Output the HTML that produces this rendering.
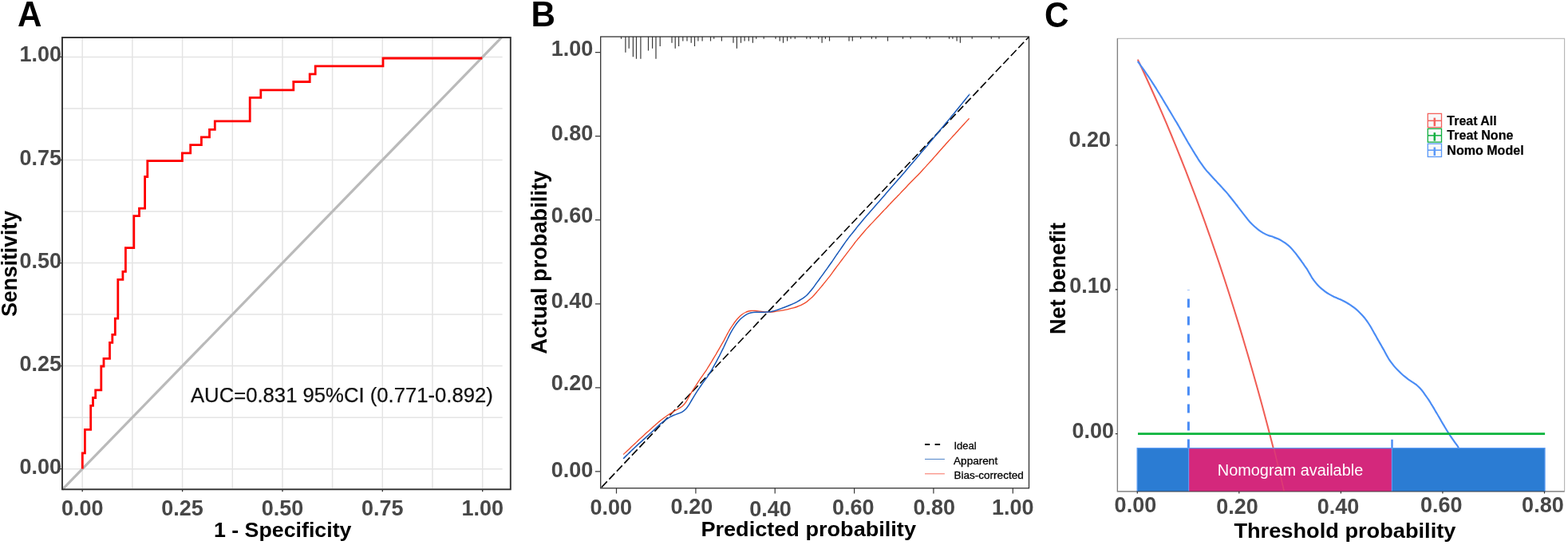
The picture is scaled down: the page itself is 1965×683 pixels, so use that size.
<!DOCTYPE html>
<html lang="en"><head><meta charset="utf-8"><title>ROC, calibration and decision curve</title>
<style>
html,body{margin:0;padding:0;background:#fff;}
body{width:1965px;height:683px;overflow:hidden;}
svg{display:block;}
text{font-family:"Liberation Sans", sans-serif;}
.pl{font-weight:700;font-size:43.6px;fill:#000;}
.tk{font-weight:700;font-size:27px;fill:#474747;}
.ax{font-weight:700;font-size:25.9px;fill:#000;}
.lgB{font-size:13.7px;fill:#000;stroke:#000;stroke-width:0.3px;}
.lgC{font-weight:700;font-size:16.2px;fill:#000;stroke:#000;stroke-width:0.2px;}
</style></head><body>
<svg width="1965" height="683" viewBox="0 0 1965 683" role="img" aria-label="ROC curve, calibration curve and decision curve">
<rect x="0" y="0" width="1965" height="683" fill="#ffffff"/>
<g id="panelA">
<text x="22.0" y="33.0" class="pl" textLength="30.4" lengthAdjust="spacingAndGlyphs">A</text>
<path d="M103.2 47V612M165.9 47V612M228.6 47V612M291.3 47V612M354.0 47V612M416.6 47V612M479.3 47V612M542.0 47V612M604.7 47V612M78 587.7H629.6M78 523.2H629.6M78 458.6H629.6M78 394.1H629.6M78 329.6H629.6M78 265.0H629.6M78 200.5H629.6M78 135.9H629.6M78 71.4H629.6" stroke="#e4e4e4" stroke-width="1.5" fill="none"/>
<path d="M78 613.6L628.6 46.8" stroke="#bababa" stroke-width="3.2" fill="none"/>
<polyline points="103.3,587.5 103.3,567.9 106.4,567.9 106.4,538.4 113.7,538.4 113.7,508.4 116.5,508.4 116.5,498.5 119.7,498.5 119.7,488.9 126.8,488.9 126.8,459.0 130.0,459.0 130.0,449.4 137.5,449.4 137.5,429.3 140.8,429.3 140.8,419.3 144.3,419.3 144.3,399.1 147.8,399.1 147.8,350.4 153.9,350.4 153.9,340.4 157.4,340.4 157.4,310.6 167.8,310.6 167.8,270.7 174.5,270.7 174.5,261.1 181.6,261.1 181.6,221.5 184.8,221.5 184.8,201.6 228.4,201.6 228.4,191.8 238.7,191.8 238.7,181.7 252.4,181.7 252.4,171.9 262.5,171.9 262.5,162.3 269.3,162.3 269.3,151.8 313.2,151.8 313.2,122.4 326.8,122.4 326.8,112.8 367.8,112.8 367.8,102.5 388.2,102.5 388.2,92.9 395.2,92.9 395.2,82.9 480.0,82.9 480.0,73.0 604.3,73.0" stroke="#ff0000" stroke-width="2.8" fill="none" stroke-linejoin="miter"/>
<rect x="78" y="47" width="561.8" height="566.3" fill="none" stroke="#303030" stroke-width="1.9"/>
<path d="M103.2 613V616.2M75 587.7H78M228.6 613V616.2M75 458.6H78M354.0 613V616.2M75 329.6H78M479.3 613V616.2M75 200.5H78M604.7 613V616.2M75 71.4H78" stroke="#333" stroke-width="1.3" fill="none"/>
<text x="103.2" y="645.6" class="tk" text-anchor="middle">0.00</text>
<text x="77.0" y="593.7" class="tk" text-anchor="end">0.00</text>
<text x="228.6" y="645.6" class="tk" text-anchor="middle">0.25</text>
<text x="77.0" y="464.6" class="tk" text-anchor="end">0.25</text>
<text x="354.0" y="645.6" class="tk" text-anchor="middle">0.50</text>
<text x="77.0" y="335.6" class="tk" text-anchor="end">0.50</text>
<text x="479.3" y="645.6" class="tk" text-anchor="middle">0.75</text>
<text x="77.0" y="206.5" class="tk" text-anchor="end">0.75</text>
<text x="604.7" y="645.6" class="tk" text-anchor="middle">1.00</text>
<text x="77.0" y="77.4" class="tk" text-anchor="end">1.00</text>
<text x="354.2" y="672.5" class="ax" text-anchor="middle" textLength="172.6" lengthAdjust="spacingAndGlyphs" style="font-size:26.5px">1 - Specificity</text>
<text transform="translate(21.2 330.4) rotate(-90)" class="ax" text-anchor="middle" textLength="132.6" lengthAdjust="spacingAndGlyphs" style="font-size:27.4px">Sensitivity</text>
<text x="239.0" y="504.2" class="auc" textLength="378.8" lengthAdjust="spacingAndGlyphs" font-size="26.4" fill="#111" stroke="#111" stroke-width="0.25">AUC=0.831 95%CI (0.771-0.892)</text>
</g>
<g id="panelB">
<text x="665.5" y="33.0" class="pl" textLength="30.4" lengthAdjust="spacingAndGlyphs">B</text>
<path d="M778.5 46V48.7M783.9 46V65.8M788.2 46V60.7M793.4 46V71.3M797.5 46V73.7M802.9 46V73.7M812.5 46V63.4M817.6 46V60.7M822.0 46V73.7M827.2 46V58.1M842.0 46V53.7M846.2 46V60.7M850.6 46V58.1M855.8 46V51.4M861.0 46V51.4M866.2 46V53.7M870.5 46V58.1M874.9 46V51.4M880.1 46V51.4M890.5 46V51.4M894.7 46V48.7M904.4 46V51.4M919.0 46V53.7M923.4 46V60.7M928.5 46V53.7M933.1 46V51.4M938.3 46V51.4M943.4 46V53.7M947.7 46V48.7M957.2 46V48.7M972.0 46V48.7M977.2 46V51.4M981.5 46V53.7M986.6 46V51.4M991.0 46V48.7M996.3 46V48.7M1010.9 46V48.7M1015.4 46V48.7M1025.8 46V48.7M1030.1 46V53.7M1034.4 46V48.7M1039.5 46V51.4M1064.0 46V51.4M1068.3 46V51.4M1078.6 46V48.7M1092.4 46V48.7M1097.7 46V48.7M1112.5 46V51.4M1131.5 46V48.7M1141.1 46V48.7M1161.0 46V48.7M1165.2 46V48.7M1189.5 46V48.7M1193.9 46V48.7M1199.1 46V51.4M1203.4 46V53.7M1218.2 46V48.7M1242.3 46V48.7M1252.0 46V48.7" stroke="#3a3a3a" stroke-width="1.2" fill="none"/>
<path d="M753 611.6L1289.4 46.2" stroke="#000" stroke-width="1.6" stroke-dasharray="10 3.8" stroke-dashoffset="-1.3" fill="none"/>
<path d="M781.1 569.6C781.8 568.9 784.0 566.9 785.5 565.5C786.9 564.1 788.4 562.7 789.8 561.4C791.3 560.0 792.7 558.6 794.2 557.3C795.7 555.9 797.1 554.5 798.6 553.2C800.0 551.8 801.5 550.4 803.0 549.1C804.4 547.7 805.9 546.4 807.4 545.0C808.8 543.6 810.3 542.3 811.8 540.9C813.3 539.6 814.8 538.2 816.3 536.9C817.7 535.6 819.3 534.3 820.8 533.0C822.3 531.6 823.8 530.3 825.3 529.0C826.8 527.8 828.4 526.5 830.0 525.3C831.6 524.1 833.2 522.9 834.8 521.7C836.5 520.6 838.1 519.5 839.8 518.4C841.5 517.3 843.2 516.4 844.9 515.3C846.7 514.3 848.4 513.4 850.1 512.3C851.8 511.2 853.6 510.2 855.1 509.0C856.6 507.7 858.0 506.3 859.1 504.7C860.3 503.1 861.2 501.3 862.1 499.5C863.1 497.8 864.0 496.0 865.0 494.3C866.1 492.6 867.2 490.9 868.2 489.2C869.3 487.5 870.4 485.9 871.5 484.2C872.5 482.5 873.6 480.8 874.7 479.1C875.8 477.4 876.9 475.8 878.0 474.1C879.2 472.5 880.3 470.9 881.5 469.2C882.6 467.6 883.8 466.0 884.9 464.3C886.0 462.6 887.0 460.9 888.1 459.2C889.1 457.5 890.2 455.8 891.2 454.1C892.2 452.4 893.3 450.7 894.3 448.9C895.3 447.2 896.3 445.5 897.4 443.8C898.4 442.1 899.4 440.3 900.4 438.6C901.4 436.9 902.4 435.2 903.4 433.4C904.4 431.7 905.4 430.0 906.4 428.2C907.3 426.5 908.3 424.7 909.2 422.9C910.1 421.2 911.1 419.4 912.0 417.6C913.0 415.9 914.0 414.1 915.0 412.4C916.0 410.7 917.1 409.0 918.3 407.4C919.4 405.7 920.5 404.1 921.7 402.5C923.0 400.9 924.3 399.4 925.6 398.0C927.0 396.6 928.5 395.1 930.0 394.0C931.6 392.8 933.4 391.8 935.2 391.0C937.0 390.3 938.9 389.8 940.9 389.5C942.8 389.3 944.9 389.4 946.8 389.5C948.8 389.6 950.8 390.0 952.8 390.2C954.8 390.5 956.7 390.9 958.7 391.0C960.7 391.2 962.7 391.2 964.7 391.1C966.7 391.0 968.7 390.8 970.7 390.5C972.6 390.3 974.6 390.0 976.6 389.7C978.6 389.3 980.5 389.0 982.5 388.6C984.4 388.2 986.4 387.8 988.4 387.3C990.3 386.9 992.3 386.5 994.2 385.9C996.1 385.4 998.0 384.7 999.9 384.0C1001.7 383.3 1003.6 382.6 1005.3 381.7C1007.1 380.7 1008.8 379.7 1010.5 378.6C1012.1 377.4 1013.6 376.2 1015.1 374.8C1016.6 373.5 1018.1 372.1 1019.4 370.7C1020.8 369.2 1022.1 367.7 1023.4 366.2C1024.7 364.7 1026.0 363.1 1027.3 361.6C1028.6 360.1 1029.8 358.5 1031.1 357.0C1032.4 355.5 1033.7 353.9 1034.9 352.4C1036.2 350.8 1037.5 349.3 1038.7 347.7C1039.9 346.1 1041.1 344.5 1042.3 342.9C1043.5 341.3 1044.6 339.6 1045.8 338.0C1047.0 336.4 1048.2 334.8 1049.4 333.2C1050.6 331.6 1051.8 330.0 1053.0 328.4C1054.2 326.8 1055.4 325.2 1056.6 323.6C1057.8 322.0 1059.0 320.4 1060.2 318.8C1061.4 317.2 1062.6 315.6 1063.8 314.1C1065.0 312.5 1066.3 310.9 1067.5 309.3C1068.7 307.7 1069.9 306.1 1071.1 304.5C1072.3 302.9 1073.6 301.4 1074.8 299.8C1076.1 298.3 1077.4 296.8 1078.7 295.2C1080.0 293.7 1081.3 292.2 1082.6 290.7C1083.9 289.2 1085.2 287.6 1086.6 286.1C1087.9 284.7 1089.3 283.2 1090.6 281.8C1092.0 280.3 1093.4 278.9 1094.8 277.4C1096.1 276.0 1097.5 274.5 1098.9 273.0C1100.3 271.6 1101.7 270.1 1103.0 268.7C1104.4 267.2 1105.8 265.8 1107.1 264.3C1108.5 262.9 1109.9 261.4 1111.3 260.0C1112.6 258.5 1114.0 257.1 1115.4 255.6C1116.8 254.2 1118.2 252.7 1119.5 251.3C1120.9 249.8 1122.3 248.4 1123.7 247.0C1125.1 245.5 1126.5 244.1 1127.9 242.6C1129.2 241.2 1130.6 239.7 1132.0 238.3C1133.4 236.9 1134.8 235.4 1136.1 234.0C1137.5 232.5 1138.9 231.0 1140.3 229.6C1141.7 228.2 1143.1 226.8 1144.5 225.3C1145.9 223.9 1147.3 222.5 1148.7 221.1C1150.1 219.7 1151.5 218.2 1152.9 216.7C1154.2 215.3 1155.6 213.8 1156.9 212.3C1158.3 210.8 1159.6 209.4 1161.0 207.9C1162.3 206.4 1163.7 204.9 1165.0 203.4C1166.3 201.9 1167.7 200.5 1169.0 199.0C1170.3 197.5 1171.6 196.0 1173.0 194.5C1174.3 193.0 1175.6 191.5 1176.9 190.0C1178.2 188.5 1179.6 187.0 1180.9 185.5C1182.2 184.0 1183.6 182.5 1184.9 181.0C1186.2 179.5 1187.6 178.0 1188.9 176.5C1190.3 175.1 1191.6 173.6 1192.9 172.1C1194.3 170.6 1195.6 169.1 1197.0 167.7C1198.3 166.2 1199.7 164.7 1201.0 163.2C1202.4 161.7 1203.7 160.3 1205.1 158.8C1206.4 157.3 1207.8 155.8 1209.1 154.4C1210.5 152.9 1212.3 150.9 1213.2 149.9C1214.1 149.0 1214.4 148.7 1214.6 148.4" stroke="#f04a2a" stroke-width="1.35" fill="none" stroke-linejoin="round"/>
<path d="M781.1 574.8C781.8 574.1 784.0 572.0 785.4 570.6C786.8 569.2 788.3 567.8 789.7 566.4C791.1 565.0 792.6 563.6 794.0 562.2C795.4 560.9 796.9 559.5 798.4 558.1C799.8 556.8 801.3 555.4 802.8 554.1C804.3 552.8 805.8 551.4 807.3 550.1C808.8 548.8 810.3 547.4 811.7 546.1C813.2 544.7 814.7 543.4 816.2 542.0C817.6 540.7 819.1 539.3 820.6 537.9C822.0 536.6 823.5 535.2 824.9 533.9C826.4 532.5 827.9 531.1 829.4 529.9C830.9 528.6 832.5 527.3 834.1 526.2C835.8 525.0 837.4 523.9 839.1 522.9C840.9 521.9 842.7 521.1 844.5 520.3C846.4 519.5 848.3 519.0 850.1 518.3C852.0 517.5 853.9 516.8 855.5 515.8C857.2 514.7 858.7 513.4 860.0 512.0C861.3 510.5 862.4 508.8 863.5 507.1C864.5 505.4 865.5 503.7 866.5 502.0C867.6 500.2 868.6 498.5 869.6 496.8C870.7 495.1 871.8 493.4 872.8 491.7C873.9 490.1 874.9 488.3 876.1 486.7C877.2 485.0 878.3 483.4 879.5 481.7C880.6 480.1 881.8 478.5 883.0 476.9C884.2 475.3 885.4 473.7 886.5 472.1C887.6 470.4 888.7 468.7 889.8 467.0C890.8 465.3 891.9 463.6 892.9 461.9C893.9 460.2 894.9 458.4 895.8 456.7C896.8 454.9 897.7 453.2 898.7 451.4C899.6 449.6 900.5 447.8 901.5 446.1C902.4 444.3 903.3 442.5 904.2 440.7C905.1 438.9 906.0 437.1 906.9 435.3C907.7 433.6 908.6 431.7 909.4 429.9C910.3 428.1 911.1 426.3 912.0 424.5C912.8 422.7 913.7 420.9 914.6 419.1C915.5 417.3 916.5 415.6 917.5 413.9C918.5 412.1 919.6 410.4 920.7 408.8C921.8 407.1 923.0 405.5 924.2 404.0C925.5 402.4 926.8 400.9 928.3 399.5C929.7 398.2 931.2 396.9 932.8 395.8C934.5 394.6 936.2 393.6 938.0 392.9C939.9 392.2 941.8 391.7 943.7 391.4C945.7 391.2 947.7 391.3 949.7 391.3C951.7 391.3 953.7 391.3 955.7 391.3C957.7 391.2 959.7 391.2 961.7 391.0C963.7 390.8 965.7 390.6 967.6 390.2C969.5 389.8 971.5 389.2 973.4 388.6C975.3 388.0 977.2 387.3 979.0 386.6C980.9 386.0 982.8 385.2 984.7 384.5C986.5 383.8 988.4 383.1 990.2 382.3C992.1 381.6 993.9 380.8 995.7 379.9C997.5 379.0 999.2 378.0 1001.0 377.0C1002.7 376.0 1004.4 375.0 1006.1 373.9C1007.7 372.7 1009.3 371.6 1010.8 370.2C1012.2 368.9 1013.5 367.3 1014.8 365.8C1016.1 364.3 1017.4 362.7 1018.6 361.2C1019.8 359.6 1021.0 357.9 1022.1 356.3C1023.3 354.7 1024.5 353.1 1025.7 351.5C1026.9 349.9 1028.0 348.2 1029.2 346.6C1030.4 345.0 1031.6 343.4 1032.7 341.8C1033.9 340.2 1035.1 338.6 1036.3 336.9C1037.4 335.3 1038.6 333.7 1039.7 332.0C1040.9 330.4 1042.0 328.8 1043.2 327.1C1044.3 325.5 1045.4 323.8 1046.5 322.1C1047.6 320.5 1048.8 318.8 1049.9 317.2C1051.0 315.5 1052.2 313.9 1053.3 312.3C1054.5 310.6 1055.6 309.0 1056.8 307.3C1057.9 305.7 1059.0 304.1 1060.2 302.4C1061.4 300.8 1062.6 299.2 1063.8 297.6C1065.0 296.0 1066.3 294.5 1067.5 292.9C1068.8 291.4 1070.0 289.8 1071.3 288.2C1072.5 286.7 1073.7 285.1 1075.0 283.5C1076.3 282.0 1077.5 280.4 1078.8 278.9C1080.1 277.4 1081.4 275.9 1082.7 274.3C1084.0 272.8 1085.3 271.3 1086.6 269.8C1087.9 268.3 1089.2 266.8 1090.5 265.2C1091.9 263.7 1093.2 262.2 1094.5 260.7C1095.8 259.2 1097.1 257.7 1098.4 256.2C1099.7 254.7 1101.1 253.2 1102.4 251.7C1103.7 250.2 1105.0 248.7 1106.3 247.2C1107.6 245.7 1109.0 244.1 1110.3 242.6C1111.6 241.1 1112.9 239.6 1114.2 238.1C1115.5 236.6 1116.8 235.1 1118.1 233.6C1119.5 232.1 1120.8 230.6 1122.1 229.1C1123.4 227.6 1124.7 226.1 1126.0 224.6C1127.4 223.1 1128.7 221.6 1130.0 220.0C1131.3 218.5 1132.6 217.0 1133.9 215.5C1135.2 213.9 1136.4 212.4 1137.7 210.9C1139.0 209.3 1140.3 207.8 1141.6 206.3C1142.9 204.8 1144.2 203.3 1145.5 201.7C1146.8 200.2 1148.1 198.7 1149.4 197.2C1150.7 195.7 1152.0 194.1 1153.3 192.6C1154.6 191.1 1155.9 189.6 1157.2 188.1C1158.5 186.5 1159.8 185.0 1161.1 183.5C1162.4 181.9 1163.6 180.4 1164.9 178.9C1166.2 177.3 1167.5 175.8 1168.8 174.3C1170.1 172.7 1171.3 171.2 1172.6 169.7C1173.9 168.1 1175.2 166.6 1176.5 165.1C1177.8 163.5 1179.0 162.0 1180.3 160.4C1181.6 158.9 1182.9 157.4 1184.2 155.8C1185.4 154.3 1186.7 152.8 1188.0 151.2C1189.3 149.7 1190.6 148.2 1191.8 146.6C1193.1 145.1 1194.4 143.5 1195.7 142.0C1196.9 140.5 1198.2 138.9 1199.5 137.3C1200.7 135.8 1202.0 134.2 1203.2 132.7C1204.5 131.1 1205.7 129.6 1207.0 128.0C1208.3 126.5 1209.5 124.9 1210.8 123.3C1212.0 121.8 1213.9 119.5 1214.5 118.7C1215.2 117.9 1214.6 118.6 1214.6 118.6" stroke="#1858b8" stroke-width="1.5" fill="none" stroke-linejoin="round"/>
<rect x="752.7" y="46" width="536.8" height="565.8" fill="none" stroke="#2c2c2c" stroke-width="1.25"/>
<path d="M772.5 611.8V618.4M745.9 590.9H752.7M871.9 611.8V618.4M745.9 485.8H752.7M971.2 611.8V618.4M745.9 380.8H752.7M1070.6 611.8V618.4M745.9 275.7H752.7M1169.9 611.8V618.4M745.9 170.7H752.7M1269.3 611.8V618.4M745.9 65.6H752.7" stroke="#3a3a3a" stroke-width="1.2" fill="none"/>
<text x="765.8" y="645.0" class="tk" text-anchor="middle">0.00</text>
<text x="866.9" y="644.4" class="tk" text-anchor="middle">0.20</text>
<text x="965.5" y="646.8" class="tk" text-anchor="middle">0.40</text>
<text x="1069.3" y="645.0" class="tk" text-anchor="middle">0.60</text>
<text x="1170.7" y="645.0" class="tk" text-anchor="middle">0.80</text>
<text x="1269.3" y="645.0" class="tk" text-anchor="middle">1.00</text>
<text x="743.3" y="70.2" class="tk" text-anchor="end">1.00</text>
<text x="743.3" y="175.6" class="tk" text-anchor="end">0.80</text>
<text x="743.3" y="279.2" class="tk" text-anchor="end">0.60</text>
<text x="743.3" y="385.5" class="tk" text-anchor="end">0.40</text>
<text x="743.3" y="489.0" class="tk" text-anchor="end">0.20</text>
<text x="743.3" y="598.0" class="tk" text-anchor="end">0.00</text>
<text x="1013.2" y="672.4" class="ax" text-anchor="middle" textLength="269.6" lengthAdjust="spacingAndGlyphs">Predicted probability</text>
<text transform="translate(684.8 328.8) rotate(-90)" class="ax" text-anchor="middle" textLength="229.8" lengthAdjust="spacingAndGlyphs" style="font-size:27.5px">Actual probability</text>
<path d="M1159 557H1165.2M1171.6 557H1178.1" stroke="#000" stroke-width="1.8" fill="none"/>
<path d="M1159 575.4H1183.9" stroke="#4a80c8" stroke-width="1" fill="none"/>
<path d="M1159 593.8H1183.9" stroke="#f87060" stroke-width="1" fill="none"/>
<text x="1195.4" y="562.9" class="lgB" textLength="28.2" lengthAdjust="spacingAndGlyphs">Ideal</text>
<text x="1195.0" y="581.8" class="lgB" textLength="55.2" lengthAdjust="spacingAndGlyphs">Apparent</text>
<text x="1195.4" y="599.7" class="lgB" textLength="87.4" lengthAdjust="spacingAndGlyphs">Bias-corrected</text>
</g>
<g id="panelC">
<text x="1309.0" y="33.7" class="pl" textLength="30.4" lengthAdjust="spacingAndGlyphs" style="font-size:45px">C</text>
<rect x="1400.4" y="48.3" width="560.2" height="567.6" fill="none" stroke="#b4b4b4" stroke-width="1.1"/>
<path d="M1400.4 48.3V615.9H1960.6" fill="none" stroke="#808080" stroke-width="1.3"/>
<path d="M1425.8 74.6C1426.8 76.7 1429.8 83.0 1431.8 87.3C1433.8 91.6 1435.8 95.9 1437.8 100.3C1439.8 104.6 1441.8 109.0 1443.8 113.5C1445.8 117.9 1447.8 122.4 1449.8 127.0C1451.8 131.5 1453.8 136.1 1455.8 140.7C1457.8 145.3 1459.8 150.0 1461.8 154.7C1463.8 159.5 1465.8 164.2 1467.8 169.0C1469.8 173.9 1471.8 178.7 1473.8 183.6C1475.8 188.6 1477.8 193.5 1479.8 198.5C1481.8 203.6 1483.8 208.6 1485.8 213.7C1487.8 218.9 1489.8 224.0 1491.8 229.3C1493.8 234.5 1495.8 239.8 1497.8 245.1C1499.8 250.5 1501.8 255.9 1503.8 261.3C1505.8 266.8 1507.8 272.3 1509.8 277.9C1511.8 283.4 1513.8 289.1 1515.8 294.8C1517.8 300.5 1519.8 306.2 1521.8 312.1C1523.8 317.9 1525.8 323.8 1527.8 329.7C1529.8 335.7 1531.8 341.7 1533.8 347.8C1535.8 353.9 1537.8 360.1 1539.8 366.3C1541.8 372.5 1543.8 378.8 1545.8 385.2C1547.8 391.6 1549.8 398.0 1551.8 404.6C1553.8 411.1 1555.8 417.7 1557.8 424.4C1559.8 431.1 1561.8 437.8 1563.8 444.7C1565.8 451.5 1567.8 458.5 1569.8 465.5C1571.8 472.5 1573.8 479.6 1575.8 486.8C1577.8 494.0 1579.8 501.2 1581.8 508.6C1583.8 516.0 1585.8 523.4 1587.8 531.0C1589.8 538.5 1591.8 546.2 1593.8 553.9C1595.8 561.7 1597.8 569.5 1599.8 577.5C1601.8 585.4 1604.2 595.3 1605.8 601.7C1607.4 608.0 1608.6 613.3 1609.2 615.6" stroke="#f05e56" stroke-width="2.05" fill="none" stroke-linejoin="round"/>
<path d="M1425.8 76.9C1426.4 77.7 1428.1 80.1 1429.3 81.8C1430.5 83.4 1431.7 85.0 1432.8 86.6C1434.0 88.3 1435.1 89.9 1436.2 91.6C1437.4 93.2 1438.5 94.9 1439.6 96.5C1440.7 98.2 1441.8 99.9 1442.9 101.5C1444.0 103.2 1445.1 104.9 1446.2 106.6C1447.3 108.2 1448.3 109.9 1449.4 111.7C1450.4 113.4 1451.4 115.1 1452.5 116.8C1453.5 118.5 1454.5 120.2 1455.6 121.9C1456.6 123.6 1457.6 125.4 1458.7 127.1C1459.7 128.8 1460.7 130.5 1461.7 132.2C1462.8 133.9 1463.8 135.6 1464.8 137.4C1465.9 139.1 1466.9 140.8 1467.9 142.5C1468.9 144.2 1470.0 145.9 1471.0 147.7C1472.0 149.4 1473.0 151.1 1474.1 152.8C1475.1 154.5 1476.1 156.3 1477.1 158.0C1478.1 159.7 1479.1 161.5 1480.1 163.2C1481.1 164.9 1482.0 166.7 1483.0 168.4C1484.0 170.1 1485.0 171.9 1486.0 173.6C1487.0 175.3 1488.0 177.1 1489.0 178.8C1490.1 180.5 1491.1 182.2 1492.1 184.0C1493.1 185.7 1494.2 187.4 1495.2 189.1C1496.3 190.8 1497.3 192.5 1498.3 194.2C1499.4 195.9 1500.5 197.6 1501.5 199.3C1502.6 201.0 1503.7 202.6 1504.9 204.3C1506.0 205.9 1507.1 207.6 1508.3 209.2C1509.4 210.8 1510.7 212.4 1512.0 213.9C1513.3 215.4 1514.7 216.8 1516.0 218.3C1517.4 219.8 1518.8 221.3 1520.1 222.7C1521.5 224.2 1522.8 225.7 1524.2 227.1C1525.5 228.6 1526.9 230.1 1528.3 231.5C1529.6 233.0 1531.0 234.5 1532.3 235.9C1533.7 237.4 1535.1 238.9 1536.4 240.4C1537.7 241.9 1539.0 243.4 1540.2 245.0C1541.5 246.5 1542.7 248.1 1544.0 249.7C1545.2 251.2 1546.5 252.8 1547.7 254.4C1548.9 256.0 1550.1 257.5 1551.3 259.1C1552.6 260.7 1553.8 262.3 1555.0 263.9C1556.2 265.5 1557.4 267.1 1558.7 268.6C1559.9 270.2 1561.1 271.8 1562.4 273.3C1563.6 274.9 1564.9 276.5 1566.2 278.0C1567.5 279.4 1568.9 280.9 1570.4 282.3C1571.8 283.6 1573.3 284.9 1574.9 286.2C1576.4 287.5 1578.0 288.7 1579.7 289.8C1581.3 290.9 1583.0 292.0 1584.8 292.9C1586.5 293.8 1588.4 294.5 1590.2 295.2C1592.1 295.9 1594.1 296.4 1595.9 297.1C1597.8 297.7 1599.7 298.5 1601.5 299.3C1603.3 300.2 1605.0 301.1 1606.8 302.1C1608.5 303.1 1610.1 304.3 1611.7 305.4C1613.3 306.6 1614.9 307.8 1616.4 309.2C1617.8 310.6 1619.1 312.1 1620.4 313.6C1621.7 315.1 1622.9 316.7 1624.2 318.2C1625.4 319.8 1626.6 321.4 1627.8 323.0C1629.0 324.6 1630.2 326.2 1631.3 327.9C1632.5 329.5 1633.7 331.1 1634.8 332.8C1635.9 334.4 1637.1 336.0 1638.2 337.7C1639.2 339.4 1640.2 341.1 1641.2 342.9C1642.2 344.6 1643.2 346.4 1644.2 348.1C1645.3 349.7 1646.4 351.4 1647.7 352.9C1648.9 354.5 1650.2 356.0 1651.6 357.5C1652.9 358.9 1654.4 360.3 1655.9 361.6C1657.4 362.9 1659.0 364.1 1660.6 365.3C1662.2 366.5 1663.9 367.6 1665.6 368.6C1667.3 369.6 1669.1 370.6 1670.9 371.5C1672.6 372.3 1674.5 373.1 1676.3 373.9C1678.2 374.7 1680.0 375.3 1681.8 376.2C1683.6 377.0 1685.4 378.0 1687.1 379.0C1688.9 380.0 1690.6 381.1 1692.2 382.2C1693.9 383.3 1695.5 384.5 1697.1 385.7C1698.6 386.9 1700.2 388.2 1701.7 389.5C1703.1 390.9 1704.5 392.3 1705.9 393.8C1707.2 395.2 1708.6 396.7 1709.9 398.2C1711.1 399.8 1712.3 401.4 1713.5 403.0C1714.6 404.6 1715.7 406.3 1716.8 408.0C1717.9 409.7 1718.8 411.4 1719.8 413.2C1720.8 414.9 1721.8 416.7 1722.7 418.4C1723.7 420.2 1724.7 421.9 1725.7 423.7C1726.6 425.4 1727.6 427.1 1728.6 428.9C1729.6 430.6 1730.6 432.3 1731.6 434.1C1732.6 435.8 1733.6 437.5 1734.6 439.3C1735.5 441.0 1736.5 442.8 1737.4 444.6C1738.4 446.3 1739.4 448.1 1740.4 449.8C1741.5 451.5 1742.6 453.1 1743.8 454.7C1745.0 456.3 1746.2 457.9 1747.5 459.4C1748.8 460.9 1750.2 462.4 1751.6 463.8C1753.0 465.2 1754.4 466.6 1755.9 468.0C1757.3 469.3 1758.8 470.6 1760.4 471.9C1761.9 473.2 1763.5 474.4 1765.1 475.6C1766.8 476.7 1768.5 477.7 1770.1 478.8C1771.8 479.9 1773.5 481.0 1775.0 482.2C1776.5 483.5 1778.0 484.9 1779.3 486.3C1780.7 487.8 1782.0 489.3 1783.2 490.9C1784.4 492.5 1785.5 494.2 1786.7 495.8C1787.8 497.4 1789.0 499.1 1790.1 500.7C1791.2 502.4 1792.3 504.1 1793.3 505.8C1794.4 507.5 1795.4 509.2 1796.4 510.9C1797.4 512.6 1798.4 514.4 1799.4 516.1C1800.4 517.8 1801.5 519.5 1802.5 521.3C1803.5 523.0 1804.5 524.7 1805.5 526.4C1806.5 528.2 1807.5 529.9 1808.5 531.6C1809.6 533.3 1810.6 535.1 1811.6 536.8C1812.6 538.5 1813.6 540.2 1814.7 541.9C1815.8 543.6 1816.9 545.3 1818.0 546.9C1819.1 548.6 1820.3 550.2 1821.5 551.8C1822.6 553.5 1823.8 555.2 1824.9 556.7C1826.0 558.3 1827.6 560.5 1828.1 561.2" stroke="#4a8cf5" stroke-width="2.15" fill="none" stroke-linejoin="round"/>
<path d="M1426 543.6H1936.1" stroke="#0cb43c" stroke-width="2.7" fill="none"/>
<path d="M1489.4 561.4V363" stroke="#4a8cf5" stroke-width="3" stroke-dasharray="10.8 11.2" fill="none"/>
<path d="M1744.5 561.4V550.8" stroke="#4a8cf5" stroke-width="2.4" fill="none"/>
<rect x="1424.9" y="561.4" width="64.7" height="54.3" fill="#2b7cd3"/>
<rect x="1489.6" y="561.4" width="254.8" height="54.3" fill="#d4287c"/>
<rect x="1744.4" y="561.4" width="191.7" height="54.3" fill="#2b7cd3"/>
<path d="M1596.4 561.8L1609.2 615.4" stroke="#e8506c" stroke-width="1.7" stroke-opacity="0.5" fill="none"/>
<path d="M1425.2 615.7V561.6H1936V615.7M1489.6 561.4V615.7M1744.4 561.4V615.7" stroke="#5b9bf2" stroke-width="1.2" fill="none"/>
<path d="M1424.5 615.6H1936.5" stroke="#000" stroke-opacity="0.3" stroke-width="1.2" fill="none"/>
<text x="1617.0" y="596.0" class="na" text-anchor="middle" textLength="182.4" lengthAdjust="spacingAndGlyphs" font-size="20" fill="#fff">Nomogram available</text>
<path d="M1425.3 615.9V618.6M1552.8 615.9V618.6M1680.4 615.9V618.6M1807.9 615.9V618.6M1935.5 615.9V618.6M1397.8 543.6H1400.4M1397.8 362.9H1400.4M1397.8 182.0H1400.4" stroke="#333" stroke-width="1.2" fill="none"/>
<text x="1422.9" y="641.8" class="tk" text-anchor="middle">0.00</text>
<text x="1550.5" y="643.6" class="tk" text-anchor="middle">0.20</text>
<text x="1677.0" y="643.6" class="tk" text-anchor="middle">0.40</text>
<text x="1806.2" y="642.4" class="tk" text-anchor="middle">0.60</text>
<text x="1933.4" y="642.4" class="tk" text-anchor="middle">0.80</text>
<text x="1392.0" y="183.9" class="tk" text-anchor="end">0.20</text>
<text x="1392.7" y="366.8" class="tk" text-anchor="end">0.10</text>
<text x="1396.0" y="548.6" class="tk" text-anchor="end">0.00</text>
<text x="1685.4" y="673.7" class="ax" text-anchor="middle" textLength="278.0" lengthAdjust="spacingAndGlyphs">Threshold probability</text>
<text transform="translate(1335.0 349.0) rotate(-90)" class="ax" text-anchor="middle" textLength="140.0" lengthAdjust="spacingAndGlyphs" style="font-size:27.2px">Net benefit</text>
<rect x="1789.3" y="142.4" width="17.2" height="17.2" fill="#f8f8fa" stroke="#f4625c" stroke-width="1.3"/>
<path d="M1789.3 151.3H1806.5" stroke="#f4625c" stroke-width="1.5" fill="none"/>
<path d="M1797.8 147.6V158.1" stroke="#f4625c" stroke-width="2.5" fill="none"/>
<text x="1813.3" y="156.9" class="lgC" textLength="62.4" lengthAdjust="spacingAndGlyphs">Treat All</text>
<rect x="1789.3" y="161.3" width="17.2" height="16.8" fill="#f8f8fa" stroke="#10b040" stroke-width="1.3"/>
<path d="M1789.3 169.8H1806.5" stroke="#10b040" stroke-width="1.5" fill="none"/>
<path d="M1797.8 166.1V176.6" stroke="#10b040" stroke-width="2.5" fill="none"/>
<text x="1813.3" y="175.3" class="lgC" textLength="83.2" lengthAdjust="spacingAndGlyphs">Treat None</text>
<rect x="1789.3" y="180.1" width="17.2" height="16.4" fill="#f8f8fa" stroke="#5a98f8" stroke-width="1.3"/>
<path d="M1789.3 188.2H1806.5" stroke="#5a98f8" stroke-width="1.5" fill="none"/>
<path d="M1797.8 184.5V195.0" stroke="#5a98f8" stroke-width="2.5" fill="none"/>
<text x="1813.3" y="194.2" class="lgC" textLength="96.3" lengthAdjust="spacingAndGlyphs">Nomo Model</text>
</g>
</svg></body></html>
